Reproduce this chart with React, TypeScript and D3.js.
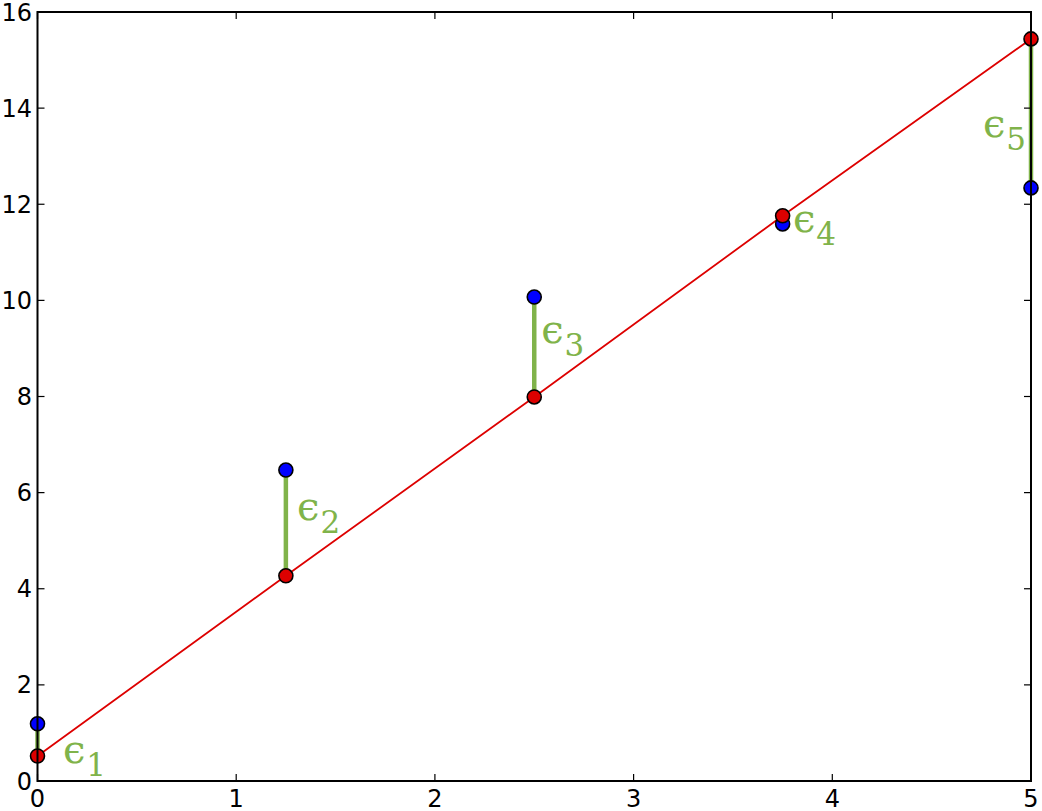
import React from "react";
import * as d3 from "d3";

const xs = [0, 1.25, 2.5, 3.75, 5];
const observed = [1.19, 6.47, 10.07, 11.59, 12.34];
const fitted = [0.52, 4.27, 7.99, 11.76, 15.44];
const labelSubs = ["1", "2", "3", "4", "5"];
const labelX = [0.128, 1.306, 2.535, 3.802, 4.758];
const labelY = [0.37, 5.43, 9.11, 11.42, 13.4];
const xTicks = [0, 1, 2, 3, 4, 5];
const yTicks = [0, 2, 4, 6, 8, 10, 12, 14, 16];

const W = 1042;
const H = 811;
const left = 37.5;
const right = 1031;
const top = 12;
const bottom = 781;

export default function App() {
  const x = d3.scaleLinear().domain([0, 5]).range([left, right]);
  const y = d3.scaleLinear().domain([0, 16]).range([bottom, top]);
  const line = d3
    .line<number>()
    .x((_, i) => x(xs[i]))
    .y((d) => y(d));
  const green = "#80b34a";
  const red = "#dd0000";
  const tickLen = 7;
  return (
    <svg
      width={W}
      height={H}
      style={{ position: "absolute", left: 0, top: 0 }}
      fontFamily="DejaVu Sans"
    >
      <rect width={W} height={H} fill="white" />
      {xs.map((xv, i) => (
        <line
          key={"e" + i}
          x1={x(xv)}
          x2={x(xv)}
          y1={y(observed[i])}
          y2={y(fitted[i])}
          stroke={green}
          strokeWidth={4.5}
        />
      ))}
      <path d={line(fitted) || ""} fill="none" stroke={red} strokeWidth={1.8} />
      {xs.map((xv, i) => (
        <circle
          key={"b" + i}
          cx={x(xv)}
          cy={y(observed[i])}
          r={7}
          fill="#0000ff"
          stroke="black"
          strokeWidth={1.6}
        />
      ))}
      {xs.map((xv, i) => (
        <circle
          key={"r" + i}
          cx={x(xv)}
          cy={y(fitted[i])}
          r={7}
          fill={red}
          stroke="black"
          strokeWidth={1.6}
        />
      ))}
      {labelSubs.map((s, i) => (
        <text
          key={"l" + i}
          x={x(labelX[i])}
          y={y(labelY[i])}
          fill={green}
          fontFamily="DejaVu Serif"
          fontSize={40}
        >
          {"\u03F5"}
          <tspan dx={1} dy={13} fontSize={31}>
            {s}
          </tspan>
        </text>
      ))}
      <rect
        x={left}
        y={top}
        width={right - left}
        height={bottom - top}
        fill="none"
        stroke="black"
        strokeWidth={2}
      />
      {xTicks.map((t) => (
        <g key={"xt" + t}>
          <line x1={x(t)} x2={x(t)} y1={bottom} y2={bottom - tickLen} stroke="black" strokeWidth={1.2} />
          <line x1={x(t)} x2={x(t)} y1={top} y2={top + tickLen} stroke="black" strokeWidth={1.2} />
          <text x={x(t)} y={807} textAnchor="middle" fontSize={24} fill="black">
            {t}
          </text>
        </g>
      ))}
      {yTicks.map((t) => (
        <g key={"yt" + t}>
          <line x1={left} x2={left + tickLen} y1={y(t)} y2={y(t)} stroke="black" strokeWidth={1.2} />
          <line x1={right} x2={right - tickLen} y1={y(t)} y2={y(t)} stroke="black" strokeWidth={1.2} />
          <text x={32} y={y(t) + 8.5} textAnchor="end" fontSize={24} fill="black">
            {t}
          </text>
        </g>
      ))}
    </svg>
  );
}
